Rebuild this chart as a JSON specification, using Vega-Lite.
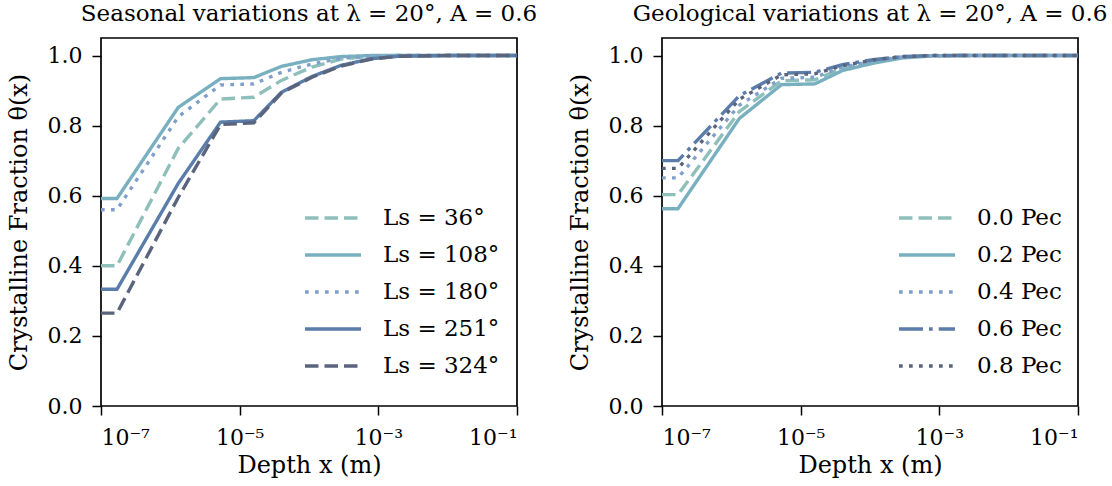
{
  "$schema": "https://vega.github.io/schema/vega-lite/v6.json",
  "background": "white",
  "padding": {"left": 6, "top": 2, "right": 5, "bottom": 2},
  "spacing": 145,
  "bounds": "flush",
  "config": {
    "font": "DejaVu Serif",
    "view": {"stroke": "black", "strokeWidth": 1.7},
    "axis": {
      "grid": false, "domain": false, "ticks": true, "tickColor": "black", "tickSize": 9, "tickWidth": 1.5,
      "labelFont": "DejaVu Serif", "labelFontSize": 22, "labelColor": "black",
      "titleFont": "DejaVu Serif", "titleFontSize": 24, "titleFontWeight": "normal", "titleColor": "black"
    },
    "legend": {"labelFont": "DejaVu Serif", "labelFontSize": 23, "labelColor": "black"},
    "title": {"font": "DejaVu Serif", "fontSize": 23, "fontWeight": "normal", "color": "black"}
  },
  "datasets": {
    "seasonal": [
      {"series": "Ls = 36°", "x": 1e-7, "y": 0.40}, {"series": "Ls = 36°", "x": 1.7e-7, "y": 0.40}, {"series": "Ls = 36°", "x": 1.3e-6, "y": 0.735}, {"series": "Ls = 36°", "x": 5.3e-6, "y": 0.876}, {"series": "Ls = 36°", "x": 1.6e-5, "y": 0.881}, {"series": "Ls = 36°", "x": 4e-5, "y": 0.929}, {"series": "Ls = 36°", "x": 1.1e-4, "y": 0.967}, {"series": "Ls = 36°", "x": 2.9e-4, "y": 0.99}, {"series": "Ls = 36°", "x": 8e-4, "y": 0.998}, {"series": "Ls = 36°", "x": 2e-3, "y": 1.0}, {"series": "Ls = 36°", "x": 1e-2, "y": 1.0}, {"series": "Ls = 36°", "x": 1e-1, "y": 1.0},
      {"series": "Ls = 108°", "x": 1e-7, "y": 0.592}, {"series": "Ls = 108°", "x": 1.7e-7, "y": 0.592}, {"series": "Ls = 108°", "x": 1.3e-6, "y": 0.852}, {"series": "Ls = 108°", "x": 5.3e-6, "y": 0.934}, {"series": "Ls = 108°", "x": 1.6e-5, "y": 0.937}, {"series": "Ls = 108°", "x": 4e-5, "y": 0.969}, {"series": "Ls = 108°", "x": 1.1e-4, "y": 0.988}, {"series": "Ls = 108°", "x": 2.9e-4, "y": 0.997}, {"series": "Ls = 108°", "x": 8e-4, "y": 1.0}, {"series": "Ls = 108°", "x": 2e-3, "y": 1.0}, {"series": "Ls = 108°", "x": 1e-2, "y": 1.0}, {"series": "Ls = 108°", "x": 1e-1, "y": 1.0},
      {"series": "Ls = 180°", "x": 1e-7, "y": 0.56}, {"series": "Ls = 180°", "x": 1.7e-7, "y": 0.56}, {"series": "Ls = 180°", "x": 1.3e-6, "y": 0.825}, {"series": "Ls = 180°", "x": 5.3e-6, "y": 0.916}, {"series": "Ls = 180°", "x": 1.6e-5, "y": 0.919}, {"series": "Ls = 180°", "x": 4e-5, "y": 0.952}, {"series": "Ls = 180°", "x": 1.1e-4, "y": 0.976}, {"series": "Ls = 180°", "x": 2.9e-4, "y": 0.992}, {"series": "Ls = 180°", "x": 8e-4, "y": 0.999}, {"series": "Ls = 180°", "x": 2e-3, "y": 1.0}, {"series": "Ls = 180°", "x": 1e-2, "y": 1.0}, {"series": "Ls = 180°", "x": 1e-1, "y": 1.0},
      {"series": "Ls = 251°", "x": 1e-7, "y": 0.333}, {"series": "Ls = 251°", "x": 1.7e-7, "y": 0.333}, {"series": "Ls = 251°", "x": 1.3e-6, "y": 0.635}, {"series": "Ls = 251°", "x": 5.3e-6, "y": 0.81}, {"series": "Ls = 251°", "x": 1.6e-5, "y": 0.814}, {"series": "Ls = 251°", "x": 4e-5, "y": 0.895}, {"series": "Ls = 251°", "x": 1.1e-4, "y": 0.94}, {"series": "Ls = 251°", "x": 2.9e-4, "y": 0.972}, {"series": "Ls = 251°", "x": 8e-4, "y": 0.991}, {"series": "Ls = 251°", "x": 2e-3, "y": 0.998}, {"series": "Ls = 251°", "x": 1e-2, "y": 1.0}, {"series": "Ls = 251°", "x": 1e-1, "y": 1.0},
      {"series": "Ls = 324°", "x": 1e-7, "y": 0.265}, {"series": "Ls = 324°", "x": 1.7e-7, "y": 0.265}, {"series": "Ls = 324°", "x": 1.3e-6, "y": 0.595}, {"series": "Ls = 324°", "x": 5.3e-6, "y": 0.803}, {"series": "Ls = 324°", "x": 1.6e-5, "y": 0.808}, {"series": "Ls = 324°", "x": 4e-5, "y": 0.893}, {"series": "Ls = 324°", "x": 1.1e-4, "y": 0.938}, {"series": "Ls = 324°", "x": 2.9e-4, "y": 0.97}, {"series": "Ls = 324°", "x": 8e-4, "y": 0.99}, {"series": "Ls = 324°", "x": 2e-3, "y": 0.998}, {"series": "Ls = 324°", "x": 1e-2, "y": 1.0}, {"series": "Ls = 324°", "x": 1e-1, "y": 1.0}
    ],
    "geo": [
      {"series": "0.0 Pec", "x": 1e-7, "y": 0.603}, {"series": "0.0 Pec", "x": 1.7e-7, "y": 0.603}, {"series": "0.0 Pec", "x": 1.3e-6, "y": 0.84}, {"series": "0.0 Pec", "x": 5.3e-6, "y": 0.928}, {"series": "0.0 Pec", "x": 1.6e-5, "y": 0.931}, {"series": "0.0 Pec", "x": 4e-5, "y": 0.964}, {"series": "0.0 Pec", "x": 1.1e-4, "y": 0.983}, {"series": "0.0 Pec", "x": 2.9e-4, "y": 0.995}, {"series": "0.0 Pec", "x": 8e-4, "y": 0.999}, {"series": "0.0 Pec", "x": 2e-3, "y": 1.0}, {"series": "0.0 Pec", "x": 1e-2, "y": 1.0}, {"series": "0.0 Pec", "x": 1e-1, "y": 1.0},
      {"series": "0.2 Pec", "x": 1e-7, "y": 0.563}, {"series": "0.2 Pec", "x": 1.7e-7, "y": 0.563}, {"series": "0.2 Pec", "x": 1.3e-6, "y": 0.82}, {"series": "0.2 Pec", "x": 5.3e-6, "y": 0.917}, {"series": "0.2 Pec", "x": 1.6e-5, "y": 0.919}, {"series": "0.2 Pec", "x": 4e-5, "y": 0.957}, {"series": "0.2 Pec", "x": 1.1e-4, "y": 0.978}, {"series": "0.2 Pec", "x": 2.9e-4, "y": 0.993}, {"series": "0.2 Pec", "x": 8e-4, "y": 0.999}, {"series": "0.2 Pec", "x": 2e-3, "y": 1.0}, {"series": "0.2 Pec", "x": 1e-2, "y": 1.0}, {"series": "0.2 Pec", "x": 1e-1, "y": 1.0},
      {"series": "0.4 Pec", "x": 1e-7, "y": 0.651}, {"series": "0.4 Pec", "x": 1.7e-7, "y": 0.651}, {"series": "0.4 Pec", "x": 1.3e-6, "y": 0.858}, {"series": "0.4 Pec", "x": 5.3e-6, "y": 0.935}, {"series": "0.4 Pec", "x": 1.6e-5, "y": 0.938}, {"series": "0.4 Pec", "x": 4e-5, "y": 0.967}, {"series": "0.4 Pec", "x": 1.1e-4, "y": 0.985}, {"series": "0.4 Pec", "x": 2.9e-4, "y": 0.996}, {"series": "0.4 Pec", "x": 8e-4, "y": 0.999}, {"series": "0.4 Pec", "x": 2e-3, "y": 1.0}, {"series": "0.4 Pec", "x": 1e-2, "y": 1.0}, {"series": "0.4 Pec", "x": 1e-1, "y": 1.0},
      {"series": "0.6 Pec", "x": 1e-7, "y": 0.70}, {"series": "0.6 Pec", "x": 1.7e-7, "y": 0.70}, {"series": "0.6 Pec", "x": 1.3e-6, "y": 0.885}, {"series": "0.6 Pec", "x": 5.3e-6, "y": 0.95}, {"series": "0.6 Pec", "x": 1.6e-5, "y": 0.952}, {"series": "0.6 Pec", "x": 4e-5, "y": 0.974}, {"series": "0.6 Pec", "x": 1.1e-4, "y": 0.988}, {"series": "0.6 Pec", "x": 2.9e-4, "y": 0.997}, {"series": "0.6 Pec", "x": 8e-4, "y": 1.0}, {"series": "0.6 Pec", "x": 2e-3, "y": 1.0}, {"series": "0.6 Pec", "x": 1e-2, "y": 1.0}, {"series": "0.6 Pec", "x": 1e-1, "y": 1.0},
      {"series": "0.8 Pec", "x": 1e-7, "y": 0.678}, {"series": "0.8 Pec", "x": 1.7e-7, "y": 0.678}, {"series": "0.8 Pec", "x": 1.3e-6, "y": 0.875}, {"series": "0.8 Pec", "x": 5.3e-6, "y": 0.945}, {"series": "0.8 Pec", "x": 1.6e-5, "y": 0.948}, {"series": "0.8 Pec", "x": 4e-5, "y": 0.971}, {"series": "0.8 Pec", "x": 1.1e-4, "y": 0.987}, {"series": "0.8 Pec", "x": 2.9e-4, "y": 0.997}, {"series": "0.8 Pec", "x": 8e-4, "y": 1.0}, {"series": "0.8 Pec", "x": 2e-3, "y": 1.0}, {"series": "0.8 Pec", "x": 1e-2, "y": 1.0}, {"series": "0.8 Pec", "x": 1e-1, "y": 1.0}
    ]
  },
  "resolve": {"scale": {"color": "independent", "strokeDash": "independent"}, "legend": {"color": "independent", "strokeDash": "independent"}},
  "hconcat": [
    {
      "width": 416, "height": 368,
      "title": {"text": "Seasonal variations at λ = 20°, A = 0.6", "offset": 12},
      "data": {"name": "seasonal"},
      "mark": {"type": "line", "strokeWidth": 3.4, "clip": true},
      "encoding": {
        "x": {"field": "x", "type": "quantitative", "scale": {"type": "log", "domain": [1e-7, 1e-1], "nice": false},
              "axis": {"title": "Depth x (m)", "values": [1e-7, 1e-5, 1e-3, 1e-1], "labelPadding": 12, "titlePadding": 5,
                       "labelExpr": "datum.value < 1e-6 ? '10⁻⁷' : datum.value < 1e-4 ? '10⁻⁵' : datum.value < 1e-2 ? '10⁻³' : '10⁻¹'"}},
        "y": {"field": "y", "type": "quantitative", "scale": {"domain": [0, 1.05], "nice": false},
              "axis": {"title": "Crystalline Fraction θ(x)", "values": [0, 0.2, 0.4, 0.6, 0.8, 1.0], "format": ".1f", "labelPadding": 10, "titlePadding": 16}},
        "color": {"field": "series", "type": "nominal",
                  "scale": {"domain": ["Ls = 36°", "Ls = 108°", "Ls = 180°", "Ls = 251°", "Ls = 324°"], "range": ["#8FBFBA", "#78B0C0", "#80A0CC", "#5A7DAA", "#5A647D"]},
                  "legend": {"title": null, "orient": "none", "legendX": 210, "legendY": 158, "symbolType": "M-1.4,0H1.4", "symbolSize": 1600, "symbolStrokeWidth": 3.4, "rowPadding": 3, "labelOffset": 28}},
        "strokeDash": {"field": "series", "type": "nominal",
                  "scale": {"domain": ["Ls = 36°", "Ls = 108°", "Ls = 180°", "Ls = 251°", "Ls = 324°"], "range": [[13.5, 6], [1, 0], [3.7, 6.3], [1, 0], [13.5, 6]]},
                  "legend": {"title": null, "orient": "none", "legendX": 210, "legendY": 158, "symbolType": "M-1.4,0H1.4", "symbolSize": 1600, "symbolStrokeWidth": 3.4, "rowPadding": 3, "labelOffset": 28}}
      }
    },
    {
      "width": 416, "height": 368,
      "title": {"text": "Geological variations at λ = 20°, A = 0.6", "offset": 12},
      "data": {"name": "geo"},
      "mark": {"type": "line", "strokeWidth": 3.4, "clip": true},
      "encoding": {
        "x": {"field": "x", "type": "quantitative", "scale": {"type": "log", "domain": [1e-7, 1e-1], "nice": false},
              "axis": {"title": "Depth x (m)", "values": [1e-7, 1e-5, 1e-3, 1e-1], "labelPadding": 12, "titlePadding": 5,
                       "labelExpr": "datum.value < 1e-6 ? '10⁻⁷' : datum.value < 1e-4 ? '10⁻⁵' : datum.value < 1e-2 ? '10⁻³' : '10⁻¹'"}},
        "y": {"field": "y", "type": "quantitative", "scale": {"domain": [0, 1.05], "nice": false},
              "axis": {"title": "Crystalline Fraction θ(x)", "values": [0, 0.2, 0.4, 0.6, 0.8, 1.0], "format": ".1f", "labelPadding": 10, "titlePadding": 16}},
        "color": {"field": "series", "type": "nominal",
                  "scale": {"domain": ["0.0 Pec", "0.2 Pec", "0.4 Pec", "0.6 Pec", "0.8 Pec"], "range": ["#8FBFBA", "#78B0C0", "#80A0CC", "#5A7DAA", "#5A647D"]},
                  "legend": {"title": null, "orient": "none", "legendX": 243, "legendY": 158, "symbolType": "M-1.4,0H1.4", "symbolSize": 1600, "symbolStrokeWidth": 3.4, "rowPadding": 3, "labelOffset": 28}},
        "strokeDash": {"field": "series", "type": "nominal",
                  "scale": {"domain": ["0.0 Pec", "0.2 Pec", "0.4 Pec", "0.6 Pec", "0.8 Pec"], "range": [[13.5, 6], [1, 0], [3.7, 6.3], [24, 6, 3.7, 6], [3.7, 6.3]]},
                  "legend": {"title": null, "orient": "none", "legendX": 243, "legendY": 158, "symbolType": "M-1.4,0H1.4", "symbolSize": 1600, "symbolStrokeWidth": 3.4, "rowPadding": 3, "labelOffset": 28}}
      }
    }
  ]
}
